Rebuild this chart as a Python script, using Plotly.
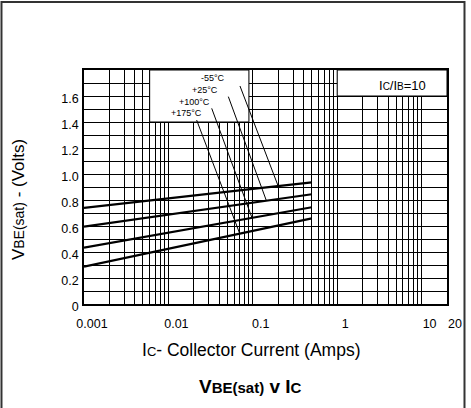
import numpy as np
import plotly.graph_objects as go

# ---------------- data ----------------
ic_amps = [0.001, 0.01, 0.1, 0.5]
vbe_m55 = [0.74, 0.81, 0.885, 0.935]
vbe_p25 = [0.595, 0.687, 0.779, 0.844]
vbe_p100 = [0.433, 0.548, 0.663, 0.744]
vbe_p175 = [0.287, 0.425, 0.563, 0.659]
temp_labels = ["-55°C", "+25°C", "+100°C", "+175°C"]
leader_tip_ic = [0.2, 0.145, 0.098, 0.07]

x_tick_vals = [0.001, 0.01, 0.1, 1, 10, 20]
x_tick_text = ["0.001", "0.01", "0.1", "1", "10", "20"]
x_minor_vals = [m * d for d in [0.001, 0.01, 0.1, 1] for m in range(2, 10)]
y_tick_vals = [0, 0.2, 0.4, 0.6, 0.8, 1.0, 1.2, 1.4, 1.6]
y_tick_text = ["0", "0.2", "0.4", "0.6", "0.8", "1.0", "1.2", "1.4", "1.6"]

FONT = "Liberation Sans, Arial, sans-serif"
series = [vbe_m55, vbe_p25, vbe_p100, vbe_p175]

fig = go.Figure()
for name, vals in zip(temp_labels, series):
    fig.add_trace(go.Scatter(x=ic_amps, y=vals, mode="lines", name=name,
                             line=dict(color="black", width=2.2),
                             showlegend=False, hoverinfo="skip"))

# label positions and leader tails (x, y)
label_pos = [(0.0334, 1.741), (0.0268, 1.646), (0.0206, 1.556), (0.0165, 1.467)]
leader_tail = [(0.0705, 1.677), (0.0513, 1.595), (0.0326, 1.505), (0.0216, 1.415)]
lx = np.log10(ic_amps)
for lab, vals, tip_x, (tx, ty), (lbx, lby) in zip(temp_labels, series, leader_tip_ic,
                                                 leader_tail, label_pos):
    tip_y = float(np.interp(np.log10(tip_x), lx, vals))
    fig.add_trace(go.Scatter(x=[tx, tip_x], y=[ty, tip_y], mode="lines",
                             line=dict(color="black", width=1),
                             showlegend=False, hoverinfo="skip"))
    fig.add_annotation(x=np.log10(lbx), y=lby, text=lab, showarrow=False,
                       xanchor="center", yanchor="middle",
                       font=dict(family=FONT, size=9, color="black"))

# blank (white) regions in the grid
fig.add_shape(type="rect", x0=0.006, x1=0.09, y0=1.4, y1=1.8, layer="between",
              fillcolor="white", line=dict(color="black", width=1))
fig.add_shape(type="rect", x0=1, x1=20, y0=1.6, y1=1.8, layer="between",
              fillcolor="white", line=dict(color="black", width=1))

fig.add_annotation(x=0.768, y=1.677, xanchor="center", yanchor="middle",
                   text="I<span style='font-size:10px'>C</span>/I<span style='font-size:10px'>B</span>=10",
                   showarrow=False, font=dict(family=FONT, size=13, color="black"))

# outer frame
fig.add_shape(type="rect", xref="paper", yref="paper", x0=-0.2273, x1=1.0482,
              y0=-0.46, y1=1.2906, line=dict(color="#333", width=2),
              fillcolor="rgba(0,0,0,0)", layer="below")

# titles
fig.add_annotation(xref="paper", yref="paper", x=-0.1818, y=0.444, textangle=-90,
                   xanchor="center", yanchor="middle",
                   text="V<span style='font-size:14px'>BE(sat)</span> - (Volts)",
                   showarrow=False, font=dict(family=FONT, size=17, color="black"))
fig.add_annotation(xref="paper", yref="paper", x=0.461, y=-0.197,
                   xanchor="center", yanchor="middle",
                   text="I<span style='font-size:13px'>C</span>- Collector Current (Amps)",
                   showarrow=False, font=dict(family=FONT, size=17.5, color="black"))
fig.add_annotation(xref="paper", yref="paper", x=0.46, y=-0.353,
                   xanchor="center", yanchor="middle",
                   text="<b>V<span style='font-size:15px'>BE(sat)</span> v I<span style='font-size:15px'>C</span></b>",
                   showarrow=False, font=dict(family=FONT, size=19, color="black"))

fig.update_xaxes(type="log", range=[np.log10(0.001), np.log10(20)],
                 tickmode="array", tickvals=x_tick_vals, ticktext=x_tick_text,
                 showgrid=True, gridcolor="black", gridwidth=1,
                 minor=dict(tickmode="array", tickvals=x_minor_vals, showgrid=True,
                            gridcolor="black", gridwidth=1, ticks=""),
                 showline=True, linecolor="black", linewidth=1.5, mirror=True,
                 ticks="", ticklabelshift=8, ticklabelstandoff=7, automargin=False,
                 tickfont=dict(family=FONT, size=12.5, color="black"),
                 zeroline=False)
fig.update_yaxes(range=[0, 1.8], tickmode="array", tickvals=y_tick_vals,
                 ticktext=y_tick_text, showgrid=True, gridcolor="black", gridwidth=1,
                 minor=dict(dtick=0.1, showgrid=True, gridcolor="black", gridwidth=1, ticks=""),
                 showline=True, linecolor="black", linewidth=1.5, mirror=True,
                 ticks="", ticklabelshift=3, ticklabelstandoff=1, automargin=False,
                 tickfont=dict(family=FONT, size=12.5, color="black"),
                 zeroline=False)

fig.update_layout(width=471, height=408, margin=dict(l=84, r=24, t=70, b=104, autoexpand=False),
                  plot_bgcolor="white", paper_bgcolor="white", showlegend=False)

fig.write_html("out.html", config={"displayModeBar": False},
               post_script="document.body.style.margin='0';document.body.style.overflow='hidden';")
